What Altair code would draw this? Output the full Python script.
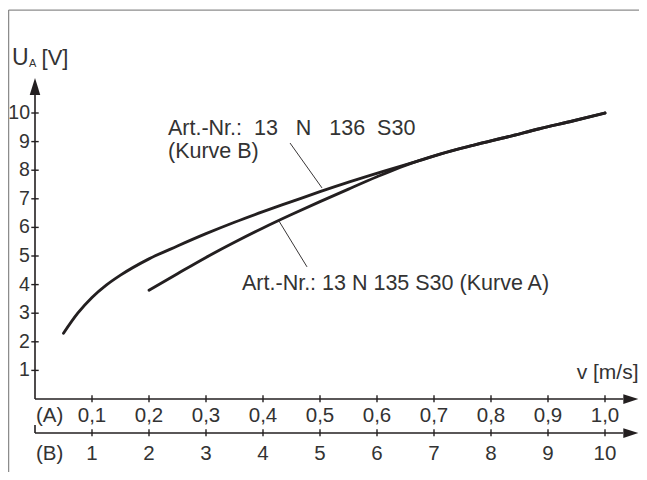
import altair as alt
import pandas as pd

# ---------------- data ----------------
# Curve A (Art.-Nr. 13 N 135 S30) - v on scale (A) in m/s
curve_a_v = [0.2, 0.25, 0.3, 0.35, 0.4, 0.45, 0.5, 0.55, 0.6, 0.65, 0.7, 0.77, 0.83, 0.885, 0.945, 1.0]
curve_a_u = [3.8, 4.38, 4.95, 5.48, 5.98, 6.45, 6.9, 7.34, 7.77, 8.17, 8.5, 8.88, 9.17, 9.45, 9.73, 10.0]
# Curve B (Art.-Nr. 13 N 136 S30) - v on scale (B) in m/s
curve_b_v = [0.5, 0.75, 1.0, 1.25, 1.5, 2.0, 2.5, 3.0, 3.5, 4.0, 4.5, 5.0, 5.53, 6.11, 6.7, 7.28, 7.7, 8.3, 8.85, 9.45, 10.0]
curve_b_u = [2.3, 3.0, 3.55, 3.98, 4.33, 4.9, 5.35, 5.78, 6.18, 6.55, 6.9, 7.25, 7.6, 7.96, 8.31, 8.66, 8.88, 9.17, 9.45, 9.73, 10.0]

y_ticks = [1, 2, 3, 4, 5, 6, 7, 8, 9, 10]
a_ticks = [0.1, 0.2, 0.3, 0.4, 0.5, 0.6, 0.7, 0.8, 0.9, 1.0]
a_labels = ["0,1", "0,2", "0,3", "0,4", "0,5", "0,6", "0,7", "0,8", "0,9", "1,0"]
b_ticks = [1, 2, 3, 4, 5, 6, 7, 8, 9, 10]
b_labels = ["1", "2", "3", "4", "5", "6", "7", "8", "9", "10"]

label_b_1 = "Art.-Nr.:\u00a0 13\u00a0\u00a0 N\u00a0\u00a0 136\u00a0 S30"
label_b_2 = "(Kurve B)"
label_a = "Art.-Nr.: 13 N 135 S30 (Kurve A)"

# ---------------- layout ----------------
W, H = 631, 464
PX = 570.0   # px per 1.0 on scale A
PY = 28.6    # px per volt
XD = [-27 / PX, (W - 27) / PX]
YD = [-(H - 391) / PY, 391 / PY]
B_Y = -1.19  # position of the (B) axis line, in volts

INK = "#231f20"
TXT = "#333333"
FONT = "Liberation Sans"

xs = alt.Scale(domain=XD, nice=False, zero=False)
ys = alt.Scale(domain=YD, nice=False, zero=False)


def X(f="x"):
    return alt.X(f"{f}:Q", scale=xs, axis=None)


def Y(f="y"):
    return alt.Y(f"{f}:Q", scale=ys, axis=None)


# curves
df_a = pd.DataFrame({"x": curve_a_v, "y": curve_a_u})
df_b = pd.DataFrame({"vb": curve_b_v, "y": curve_b_u})

line_a = alt.Chart(df_a).mark_line(color=INK, strokeWidth=2.9, interpolate="monotone", strokeCap="round").encode(
    x=X(), y=Y(), order="x:Q")
line_b = alt.Chart(df_b).transform_calculate(x="datum.vb / 10").mark_line(
    color=INK, strokeWidth=2.9, interpolate="monotone", strokeCap="round").encode(x=X(), y=Y(), order="x:Q")

# axis lines
axes_df = pd.DataFrame({
    "x": [0, 0, 0, 0],
    "x2": [0, 1.032, 1.032, 0],
    "y": [0, 0, B_Y, B_Y],
    "y2": [10.7, 0, B_Y, B_Y + 0.28],
})
axes = alt.Chart(axes_df).mark_rule(color=INK, strokeWidth=1.6).encode(
    x=X(), x2="x2:Q", y=Y(), y2="y2:Q")

# arrow heads
arr_up = alt.Chart(pd.DataFrame({"x": [0], "y": [10.93]})).mark_point(
    shape="M0,-1L0.62,1L-0.62,1Z", size=289, filled=True, fill=INK, stroke=None, opacity=1).encode(x=X(), y=Y())
arr_right = alt.Chart(pd.DataFrame({"x": [1.0453, 1.0453], "y": [0, B_Y]})).mark_point(
    shape="M1,0L-1,-0.65L-1,0.65Z", size=225, filled=True, fill=INK, stroke=None, opacity=1).encode(x=X(), y=Y())

# ticks
yt_df = pd.DataFrame({"y": y_ticks})
ytick = alt.Chart(yt_df).transform_calculate(x="-0.0065", x2="0.0065").mark_rule(color=INK, strokeWidth=1.4).encode(
    x=X(), x2="x2:Q", y=Y())
at_df = pd.DataFrame({"x": a_ticks})
atick = alt.Chart(at_df).transform_calculate(y="-0.11", y2="0.13").mark_rule(color=INK, strokeWidth=1.4).encode(
    x=X(), y=Y(), y2="y2:Q")
bt_df = pd.DataFrame({"xb": b_ticks})
btick = alt.Chart(bt_df).transform_calculate(x="datum.xb / 10", y=f"{B_Y} - 0.11", y2=f"{B_Y} + 0.13").mark_rule(
    color=INK, strokeWidth=1.4).encode(x=X(), y=Y(), y2="y2:Q")

# tick labels
ylab = alt.Chart(pd.DataFrame({"y": y_ticks, "t": [str(v) for v in y_ticks]})).transform_calculate(
    x="-0.0088").mark_text(align="right", baseline="middle", font=FONT, fontSize=19.5, color=TXT).encode(
    x=X(), y=Y(), text="t:N")
alab = alt.Chart(pd.DataFrame({"x": a_ticks, "t": a_labels})).transform_calculate(
    y="-0.80").mark_text(align="center", baseline="alphabetic", font=FONT, fontSize=20.5, color=TXT).encode(
    x=X(), y=Y(), text="t:N")
blab = alt.Chart(pd.DataFrame({"xb": b_ticks, "t": b_labels})).transform_calculate(
    x="datum.xb / 10", y="-2.13").mark_text(align="center", baseline="alphabetic", font=FONT, fontSize=20.5,
                                           color=TXT).encode(x=X(), y=Y(), text="t:N")

# other texts (left aligned)
txt_df = pd.DataFrame({
    "x": [0.0018, 0.0018, -0.0404, 0.0115, 0.2333, 0.2333, 0.3632],
    "y": [-0.80, -2.13, 11.68, 11.68, 9.23, 8.43, 3.81],
    "t": ["(A)", "(B)", "U", "[V]", label_b_1, label_b_2, label_a],
    "s": [20.5, 20.5, 23, 22, 21.5, 21.5, 21.5],
})
texts = alt.Chart(txt_df).mark_text(align="left", baseline="alphabetic", font=FONT, color=TXT).encode(
    x=X(), y=Y(), text="t:N", size=alt.Size("s:Q", scale=None, legend=None))
vlabel = alt.Chart(pd.DataFrame({"x": [(W - 27.5) / PX], "y": [0.70], "t": ["v [m/s]"]})).mark_text(
    align="right", baseline="alphabetic", font=FONT, fontSize=21, color=TXT).encode(x=X(), y=Y(), text="t:N")
sub = alt.Chart(pd.DataFrame({"x": [-0.0105], "y": [11.61], "t": ["A"]})).mark_text(
    align="left", baseline="alphabetic", font=FONT, fontSize=11, color=TXT).encode(x=X(), y=Y(), text="t:N")

# leader lines
lead_df = pd.DataFrame({"x": [0.4474, 0.4281], "y": [8.95, 6.22], "x2": [0.5035, 0.4772], "y2": [7.38, 4.62]})
leads = alt.Chart(lead_df).mark_rule(color=INK, strokeWidth=0.9).encode(x=X(), y=Y(), x2="x2:Q", y2="y2:Q")

# frame (left and top edges)
frame_df = pd.DataFrame({"x": [-26.4 / PX, -26.4 / PX], "x2": [-26.4 / PX, (W - 0.5) / PX],
                         "y": [13.6, 13.6], "y2": [-2.6, 13.6]})
frame = alt.Chart(frame_df).mark_rule(color="#8c8c8c", strokeWidth=1.3).encode(
    x=X(), x2="x2:Q", y=Y(), y2="y2:Q")

chart = alt.layer(
    frame, axes, ytick, atick, btick, arr_up, arr_right, line_b, line_a, leads,
    ylab, alab, blab, texts, vlabel, sub
).properties(
    width=W, height=H, padding=0, autosize=alt.AutoSizeParams(type="none")
).configure_view(stroke=None)

chart.save("out.html", embed_options={"renderer": "svg", "actions": False})
